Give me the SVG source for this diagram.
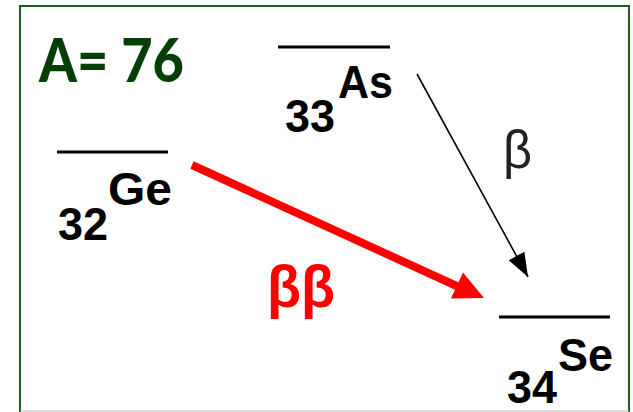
<svg xmlns="http://www.w3.org/2000/svg" width="633" height="412" viewBox="0 0 633 412">
<style>
.lvl{stroke:#000;stroke-width:3;fill:none}
.nuc{font-family:"Liberation Sans",Arial,sans-serif;font-weight:bold;fill:#000;font-size:46px}
</style>
<defs>
<marker id="hb" viewBox="0 0 24 18" refX="24" refY="9" markerWidth="24" markerHeight="18" markerUnits="userSpaceOnUse" orient="auto">
<path d="M0,0 L24,9 L0,18 z" fill="#000"/>
</marker>
</defs>
<rect x="0" y="0" width="633" height="412" fill="#fff"/>
<rect x="20" y="6" width="609" height="410" fill="none" stroke="#1f5a1f" stroke-width="2"/>
<line x1="20" y1="411" x2="629" y2="411" stroke="#bbb" stroke-width="1"/>
<text x="39" y="82" font-family="Lato,'Open Sans',sans-serif" font-weight="900" font-size="61" fill="#063f06" textLength="145" lengthAdjust="spacingAndGlyphs">A= 76</text>
<g id="ge">
<line class="lvl" x1="57" y1="152" x2="168" y2="152"/>
<text class="nuc" x="58" y="240" textLength="50" lengthAdjust="spacingAndGlyphs">32</text>
<text class="nuc" x="108" y="205" textLength="64" lengthAdjust="spacingAndGlyphs">Ge</text>
</g>
<g id="as">
<line class="lvl" x1="278" y1="47" x2="390" y2="47"/>
<text class="nuc" x="285" y="132" textLength="50" lengthAdjust="spacingAndGlyphs">33</text>
<text class="nuc" x="338" y="98" textLength="55" lengthAdjust="spacingAndGlyphs">As</text>
</g>
<g id="se">
<line class="lvl" x1="499" y1="317" x2="610" y2="317"/>
<text class="nuc" x="507" y="403" textLength="50" lengthAdjust="spacingAndGlyphs">34</text>
<text class="nuc" x="558" y="371" textLength="55" lengthAdjust="spacingAndGlyphs">Se</text>
</g>
<g id="connectors">
<line x1="417" y1="74" x2="528" y2="277" stroke="#000" stroke-width="1.6" marker-end="url(#hb)"/>
<line x1="192" y1="165" x2="460" y2="287.5" stroke="#ff0000" stroke-width="8" stroke-linecap="butt"/>
<polygon points="484,298 451,298.5 463,272.5" fill="#ff0000"/>
<text x="503" y="168" font-family="'Liberation Sans',Arial,sans-serif" font-size="54" fill="#222" textLength="29" lengthAdjust="spacingAndGlyphs">β</text>
<text x="267" y="307" font-family="'Liberation Sans',Arial,sans-serif" font-weight="bold" font-size="60" fill="#ff0000" textLength="68" lengthAdjust="spacingAndGlyphs">ββ</text>
</g>
</svg>
